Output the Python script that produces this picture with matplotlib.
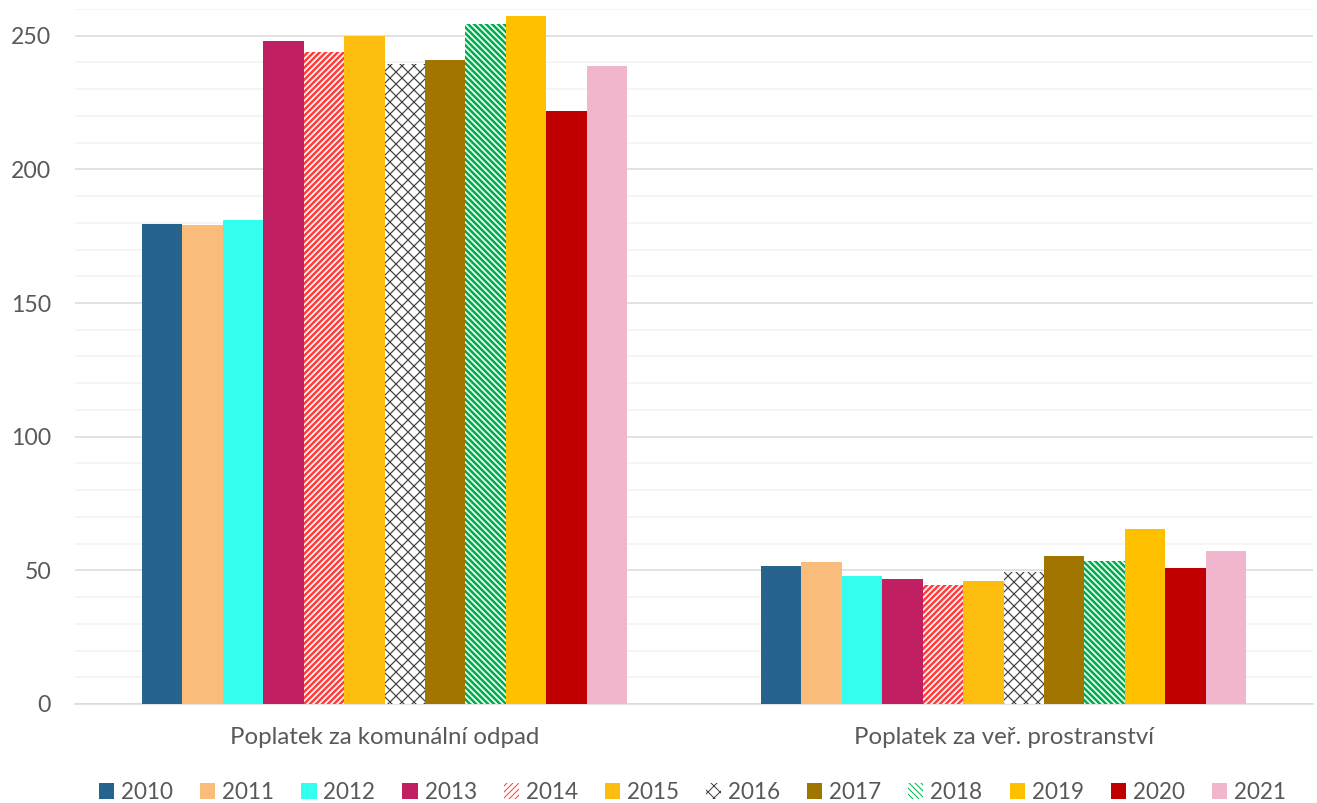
import matplotlib.pyplot as plt
import numpy as np
from matplotlib.ticker import MultipleLocator

categories = ["Poplatek za komunální odpad", "Poplatek za veř. prostranství"]
years = ["2010", "2011", "2012", "2013", "2014", "2015",
         "2016", "2017", "2018", "2019", "2020", "2021"]

# values per year: [komunální odpad, veř. prostranství]
values = {
    "2010": [179.5, 51.5],
    "2011": [179.2, 53.1],
    "2012": [180.9, 48.0],
    "2013": [248.2, 46.7],
    "2014": [243.8, 44.4],
    "2015": [249.8, 46.0],
    "2016": [239.4, 49.5],
    "2017": [241.1, 55.4],
    "2018": [254.4, 53.5],
    "2019": [257.4, 65.5],
    "2020": [221.8, 50.8],
    "2021": [238.6, 57.3],
}

colors = {
    "2010": "#26648E", "2011": "#F9BC7B", "2012": "#33FFEE", "2013": "#C02062",
    "2014": "#FF4040", "2015": "#FDBE10", "2016": "#404040", "2017": "#A07500",
    "2018": "#00B050", "2019": "#FFC000", "2020": "#C00000", "2021": "#F2B5CE",
}
hatches = {"2014": "////", "2016": "xx", "2018": "\\\\\\\\"}

plt.rcParams['font.family'] = ['Lato', 'DejaVu Sans']

fig = plt.figure(figsize=(1317 / 72, 803 / 72), dpi=72)
ax = fig.add_axes([75 / 1317, 1 - 704 / 803, 1238 / 1317, 695 / 803])

x = np.arange(len(categories))
n = len(years)
w = 0.0653
for i, yr in enumerate(years):
    pos = x + (i - (n - 1) / 2) * w
    if yr in hatches:
        lw = 1.2 if yr == "2016" else 2.6
        with plt.rc_context({'hatch.linewidth': lw}):
            ax.bar(pos, values[yr], w, color="white", edgecolor=colors[yr],
                   hatch=hatches[yr], linewidth=0, label=yr, zorder=3)
    else:
        ax.bar(pos, values[yr], w, color=colors[yr], linewidth=0, label=yr, zorder=3)

ax.set_xlim(-0.5, 1.5)
ax.set_ylim(0, 260)
ax.yaxis.set_major_locator(MultipleLocator(50))
ax.yaxis.set_minor_locator(MultipleLocator(10))
ax.grid(axis='y', which='major', color='#D9D9D9', linewidth=1.5, zorder=0)
ax.grid(axis='y', which='minor', color='#F2F2F2', linewidth=1.5, zorder=0)
for s in ['top', 'right', 'left']:
    ax.spines[s].set_visible(False)
ax.spines['bottom'].set_color('#D9D9D9')
ax.spines['bottom'].set_linewidth(1.5)

ax.set_xticks(x)
ax.set_xticklabels(categories)
ax.tick_params(axis='both', which='both', length=0, colors='#595959', labelsize=23)
ax.tick_params(axis='x', pad=23, labelsize=24)
ax.tick_params(axis='y', pad=24)

ax.legend(loc='upper center', bbox_to_anchor=(0.4988, -0.099),
          ncol=12, frameon=False, fontsize=22.5, labelcolor='#595959',
          handlelength=0.67, handleheight=0.67, handletextpad=0.31, columnspacing=1.2,
          borderaxespad=0)

fig.savefig("out.png", dpi=72)
